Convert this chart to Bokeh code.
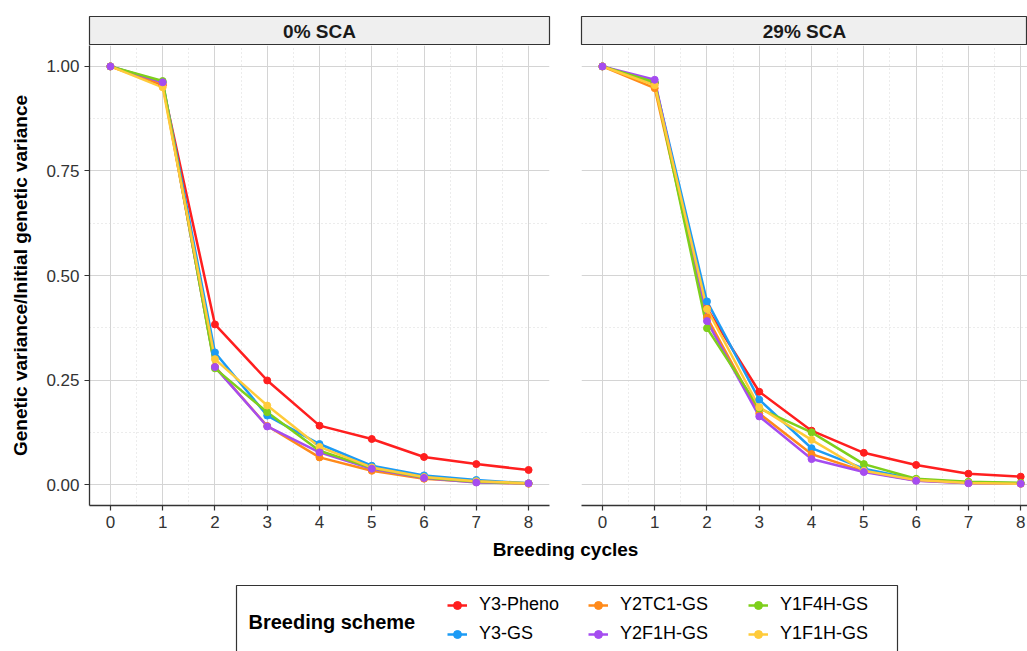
from bokeh.plotting import figure
from bokeh.layouts import row, column
from bokeh.models import Range1d, FixedTicker, NumeralTickFormatter, Grid, Legend, LegendItem, Label
from bokeh.embed import file_html
from bokeh.resources import INLINE

# ---------------- data ----------------
cycles = [0, 1, 2, 3, 4, 5, 6, 7, 8]
schemes = ["Y3-Pheno", "Y3-GS", "Y2TC1-GS", "Y2F1H-GS", "Y1F4H-GS", "Y1F1H-GS"]
colors = ["#FF1F1F", "#1C9BF5", "#FF8A1A", "#A54CF0", "#7ECF1B", "#FFCB3A"]
panel_titles = ["0% SCA", "29% SCA"]

# 0% SCA
sca0_y3_pheno = [1.0, 0.955, 0.383, 0.249, 0.141, 0.109, 0.066, 0.049, 0.035]
sca0_y3_gs    = [1.0, 0.962, 0.316, 0.165, 0.097, 0.045, 0.022, 0.011, 0.003]
sca0_y2tc1_gs = [1.0, 0.958, 0.282, 0.140, 0.065, 0.033, 0.014, 0.006, 0.002]
sca0_y2f1h_gs = [1.0, 0.962, 0.281, 0.139, 0.077, 0.038, 0.016, 0.005, 0.003]
sca0_y1f4h_gs = [1.0, 0.965, 0.278, 0.173, 0.081, 0.040, 0.017, 0.007, 0.003]
sca0_y1f1h_gs = [1.0, 0.950, 0.300, 0.189, 0.090, 0.041, 0.018, 0.008, 0.003]

# 29% SCA
sca29_y3_pheno = [1.0, 0.960, 0.421, 0.222, 0.129, 0.076, 0.047, 0.026, 0.019]
sca29_y3_gs    = [1.0, 0.962, 0.438, 0.203, 0.087, 0.038, 0.012, 0.005, 0.003]
sca29_y2tc1_gs = [1.0, 0.948, 0.400, 0.170, 0.073, 0.032, 0.010, 0.004, 0.002]
sca29_y2f1h_gs = [1.0, 0.968, 0.391, 0.163, 0.061, 0.030, 0.009, 0.003, 0.002]
sca29_y1f4h_gs = [1.0, 0.962, 0.374, 0.182, 0.125, 0.049, 0.014, 0.007, 0.004]
sca29_y1f1h_gs = [1.0, 0.955, 0.420, 0.185, 0.107, 0.033, 0.011, 0.004, 0.002]

x_ticks = [0, 1, 2, 3, 4, 5, 6, 7, 8]
x_minor_ticks = [0.5, 1.5, 2.5, 3.5, 4.5, 5.5, 6.5, 7.5]
y_ticks = [0.0, 0.25, 0.5, 0.75, 1.0]
y_minor_ticks = [0.125, 0.375, 0.625, 0.875]

panel_series = [
    [sca0_y3_pheno, sca0_y3_gs, sca0_y2tc1_gs, sca0_y2f1h_gs, sca0_y1f4h_gs, sca0_y1f1h_gs],
    [sca29_y3_pheno, sca29_y3_gs, sca29_y2tc1_gs, sca29_y2f1h_gs, sca29_y1f4h_gs, sca29_y1f1h_gs],
]

FONT = "Liberation Sans"
DARK = "#333333"
point_order = [0, 1, 2, 4, 5, 3]


def make_strip(title, width, left, right):
    s = figure(width=width, height=45, x_range=Range1d(0, 1), y_range=Range1d(0, 1),
               output_backend="svg", toolbar_location=None,
               x_axis_location=None, y_axis_location=None,
               min_border_left=left, min_border_right=right,
               min_border_top=16, min_border_bottom=0)
    s.title.visible = False
    for g in s.grid:
        g.visible = False
    s.background_fill_color = "#EFEFEF"
    s.outline_line_color = DARK
    s.outline_line_width = 1.2
    s.add_layout(Label(x=0.5, y=0.5, text=title, text_align="center", text_baseline="middle",
                       text_font=FONT, text_font_size="19px", text_font_style="bold",
                       text_color="#1A1A1A"))
    return s


def make_panel(series, width, left, right, x_end, show_y):
    p = figure(width=width, height=492, x_range=Range1d(-0.4, x_end), y_range=Range1d(-0.05, 1.05),
               output_backend="svg", toolbar_location=None,
               y_axis_location="left" if show_y else None,
               min_border_left=left, min_border_right=right,
               min_border_top=0, min_border_bottom=32)
    p.title.visible = False
    p.outline_line_color = None
    xt = FixedTicker(ticks=x_ticks, minor_ticks=x_minor_ticks)
    yt = FixedTicker(ticks=y_ticks, minor_ticks=y_minor_ticks)
    p.xaxis.ticker = xt
    p.xgrid.ticker = xt
    if len(p.ygrid) > 0:
        p.ygrid.ticker = yt
    else:
        p.add_layout(Grid(dimension=1, ticker=yt))
    if show_y:
        p.yaxis.ticker = yt
        p.yaxis.formatter = NumeralTickFormatter(format="0.00")
        p.yaxis.axis_label = "Genetic variance/Initial genetic variance"
        p.yaxis.axis_label_text_font = FONT
        p.yaxis.axis_label_text_font_size = "19px"
        p.yaxis.axis_label_text_font_style = "bold"
        p.yaxis.axis_label_text_color = "black"
        p.yaxis.axis_label_standoff = 12
    for ax in p.axis:
        ax.axis_line_color = DARK
        ax.axis_line_width = 1.3
        ax.major_tick_line_color = DARK
        ax.major_tick_line_width = 1.2
        ax.major_tick_out = 5
        ax.major_tick_in = 0
        ax.minor_tick_line_color = None
        ax.major_label_text_font = FONT
        ax.major_label_text_font_size = "17px"
        ax.major_label_text_color = DARK
        ax.major_label_standoff = 5
    for g in p.grid:
        g.grid_line_color = "#D4D4D4"
        g.grid_line_width = 1
        g.minor_grid_line_color = "#D9D9D9"
        g.minor_grid_line_dash = "1 3"
        g.minor_grid_line_width = 1
    for vals, c in zip(series, colors):
        p.line(cycles, vals, line_color=c, line_width=2.5)
    for i in point_order:
        p.scatter(cycles, series[i], size=7, fill_color=colors[i], line_color=colors[i])
    return p


strip_l = make_strip(panel_titles[0], 565, 89, 16)
panel_l = make_panel(panel_series[0], 565, 89, 16, 8.4, True)
strip_r = make_strip(panel_titles[1], 462, 16, 0)
panel_r = make_panel(panel_series[1], 462, 16, 0, 8.13, False)

# bottom: x-axis title and legend
b = figure(width=1027, height=114, x_range=Range1d(0, 1027), y_range=Range1d(0, 114),
           output_backend="svg", toolbar_location=None,
           x_axis_location=None, y_axis_location=None,
           min_border_left=0, min_border_right=0, min_border_top=0, min_border_bottom=0)
b.title.visible = False
for g in b.grid:
    g.visible = False
b.outline_line_color = None
b.add_layout(Label(x=565, y=102, text="Breeding cycles", text_align="center", text_baseline="middle",
                   text_font=FONT, text_font_size="19px", text_font_style="bold", text_color="black"))
b.quad(left=[236], right=[897], top=[66], bottom=[-6], fill_color="white",
       line_color=DARK, line_width=1.2)
b.add_layout(Label(x=248, y=30, text="Breeding scheme", text_align="left", text_baseline="middle",
                   text_font=FONT, text_font_size="20px", text_font_style="bold", text_color="black"))

nan = float("nan")
items = []
for name, c in zip(schemes, colors):
    r1 = b.line(x=[nan, nan], y=[nan, nan], line_color=c, line_width=2.5)
    r2 = b.scatter(x=[nan], y=[nan], size=6, fill_color=c, line_color=c)
    items.append(LegendItem(label=name, renderers=[r1, r2]))

col_x = [447, 588, 748]
for k in range(3):
    leg = Legend(items=items[2 * k:2 * k + 2], location=(col_x[k], 7), orientation="vertical",
                 border_line_color=None, background_fill_alpha=0, padding=0, margin=0,
                 spacing=8, glyph_width=20, glyph_height=20, label_height=20, label_standoff=12,
                 label_text_font=FONT, label_text_font_size="18px", label_text_color="black")
    b.add_layout(leg)

layout = column(row(column(strip_l, panel_l), column(strip_r, panel_r)), b)

open("out.html", "w").write(file_html(layout, INLINE))
